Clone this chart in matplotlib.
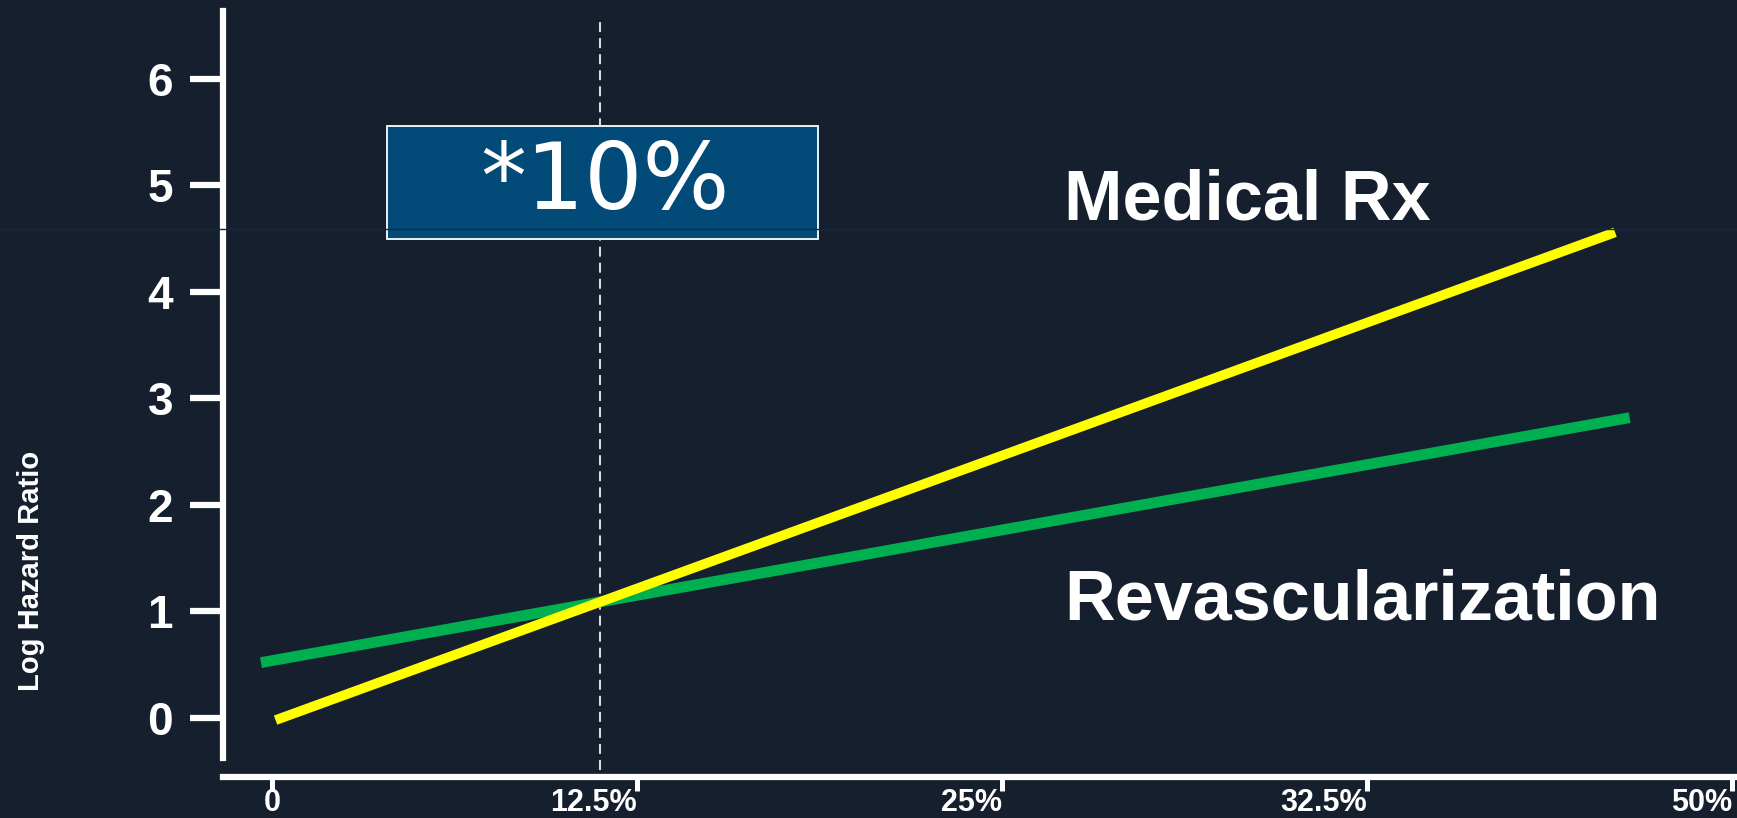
import matplotlib
matplotlib.use("Agg")
import matplotlib.pyplot as plt
from matplotlib.patches import Rectangle
from matplotlib.lines import Line2D

# Log hazard ratio vs ischemic myocardium, two treatment strategies
x_labels = ["0", "12.5%", "25%", "32.5%", "50%"]
y_ticks = [0, 1, 2, 3, 4, 5, 6]

medical_x = [0.01, 3.68]
medical_y = [-0.02, 4.56]
revasc_x = [-0.03, 3.72]
revasc_y = [0.52, 2.82]

threshold_x = 0.90
threshold_label = "*10%"

bg = "#151f2e"
plt.rcParams["font.family"] = ["Liberation Sans", "DejaVu Sans"]

W, H = 1737, 818
fig = plt.figure(figsize=(W / 100, H / 100), dpi=100, facecolor=bg)
ax = fig.add_axes([223 / W, (H - 777) / H, 1 - 223 / W, (777 - 11) / H])
ax.set_facecolor(bg)

ax.plot(revasc_x, revasc_y, color="#00b050", lw=7.8, solid_capstyle="butt", zorder=3)
ax.plot(medical_x, medical_y, color="#ffff00", lw=7, solid_capstyle="butt", zorder=4)

# dashed threshold marker
ax.axvline(threshold_x, ymin=0.009, ymax=0.994, color="#d8d8d8", lw=1.5,
           dashes=(4.8, 2.9), zorder=2)

ax.set_xlim(-0.134, 4.014)
ax.set_ylim(-0.554, 6.638)

for s in ["top", "right"]:
    ax.spines[s].set_visible(False)
ax.spines["left"].set_color("white")
ax.spines["left"].set_linewidth(4.5)
ax.spines["left"].set_bounds(-0.376, 6.638)
ax.spines["bottom"].set_color("white")
ax.spines["bottom"].set_linewidth(4.5)

ax.set_yticks(y_ticks)
ax.set_yticklabels([str(t) for t in y_ticks])
ax.tick_params(axis="y", colors="white", length=24, width=4.5, pad=12,
               labelsize=33)
ax.set_xticks(range(len(x_labels)))
ax.set_xticklabels(x_labels)
ax.tick_params(axis="x", colors="white", length=10, width=3.6, pad=-2,
               labelsize=22)
for lab in ax.get_yticklabels() + ax.get_xticklabels():
    lab.set_fontweight("bold")
for i, lab in enumerate(ax.get_xticklabels()):
    if i > 0:
        lab.set_horizontalalignment("right")

fig.text(31 / W, (H - 571) / H, "Log Hazard Ratio", rotation=90, color="white",
         fontsize=21, fontweight="bold", ha="center", va="center")

fig.text(1064 / W, (H - 219) / H, "Medical Rx", color="white", fontsize=50.5,
         fontweight="bold", ha="left", va="baseline")
fig.text(1064 / W, (H - 620) / H, "Revascularization", color="white",
         fontsize=50.5, fontweight="bold", ha="left", va="baseline")

# highlighted threshold box
box = Rectangle((387 / W, (H - 239) / H), 431 / W, 113 / H,
                transform=fig.transFigure, facecolor="#024a78",
                edgecolor="white", lw=1.3, zorder=3)
fig.add_artist(box)
fig.text(605 / W, (H - 183) / H, threshold_label, color="white", fontsize=66,
         family=["DejaVu Sans"], fontweight="normal",
         ha="center", va="center", zorder=4)

# thin rule running across the slide
fig.add_artist(Line2D([0, 1], [(H - 229) / H] * 2, transform=fig.transFigure,
                      color="#10284a", lw=1.0, zorder=5))

fig.savefig("out.png", dpi=100, facecolor=bg)
